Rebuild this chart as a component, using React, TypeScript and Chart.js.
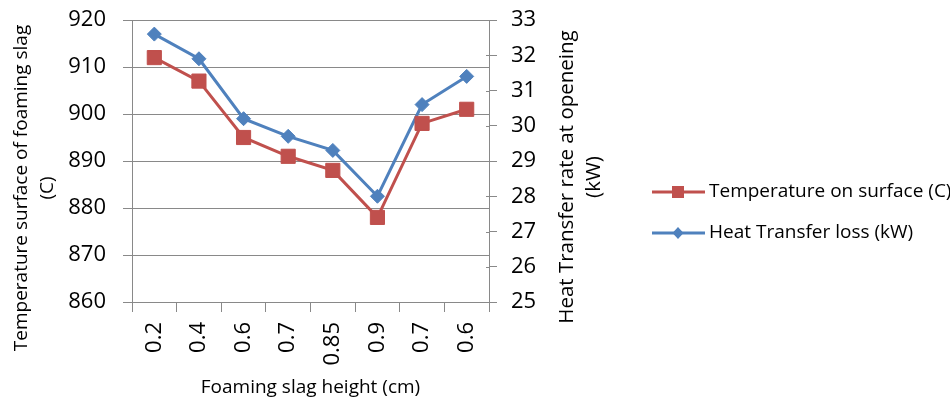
import React, { useEffect, useRef } from "react";
import { Chart, registerables } from "chart.js";

Chart.register(...registerables);

const categories = ["0.2", "0.4", "0.6", "0.7", "0.85", "0.9", "0.7", "0.6"];
const temperature = [912, 907, 895, 891, 888, 878, 898, 901];
const heatLoss = [32.6, 31.9, 30.2, 29.7, 29.3, 28.0, 30.6, 31.4];

const leftTitle = ["Temperature surface of foaming slag", "(C)"];
const rightTitle = ["Heat Transfer rate at openeing", "(kW)"];
const xTitle = "Foaming slag height (cm)";
const legendLabels = ["Temperature on surface (C)", "Heat Transfer loss (kW)"];

const RED = "#C0504D";
const BLUE = "#4F81BD";
const GRID = "#898989";
const FONT = "'Open Sans', Lato, sans-serif";

// Axis titles and a line+marker legend drawn onto the canvas
const annotations = {
  id: "annotations",
  afterDraw(chart: any) {
    const { ctx, chartArea } = chart;
    ctx.save();
    ctx.fillStyle = "#000";
    ctx.textAlign = "center";
    ctx.textBaseline = "middle";

    const drawVertical = (lines: string[], x: number, y: number, gap: number) => {
      lines.forEach((t, i) => {
        ctx.save();
        ctx.translate(x + i * gap, y);
        ctx.rotate(-Math.PI / 2);
        ctx.fillText(t, 0, 0);
        ctx.restore();
      });
    };
    ctx.font = `19px ${FONT}`;
    drawVertical(leftTitle, 22, 188, 26);
    ctx.font = `20.5px ${FONT}`;
    drawVertical(rightTitle, 567, 177, 27);

    ctx.font = `19px ${FONT}`;
    ctx.fillText(xTitle, (chartArea.left + chartArea.right) / 2, 388);

    // legend
    const rows = [
      { y: 192, color: RED, shape: "square" },
      { y: 233, color: BLUE, shape: "diamond" },
    ];
    rows.forEach((r, i) => {
      ctx.strokeStyle = r.color;
      ctx.fillStyle = r.color;
      ctx.lineWidth = 3;
      ctx.beginPath();
      ctx.moveTo(652, r.y);
      ctx.lineTo(705, r.y);
      ctx.stroke();
      const cx = 678;
      ctx.beginPath();
      if (r.shape === "square") {
        ctx.rect(cx - 6, r.y - 6, 12, 12);
      } else {
        ctx.moveTo(cx, r.y - 6);
        ctx.lineTo(cx + 5.5, r.y);
        ctx.lineTo(cx, r.y + 6);
        ctx.lineTo(cx - 5.5, r.y);
        ctx.closePath();
      }
      ctx.fill();
      ctx.fillStyle = "#000";
      ctx.textAlign = "left";
      ctx.fillText(legendLabels[i], 709, r.y);
    });

    // short inner stubs so the right-axis tick marks cross the axis line
    const y1 = chart.scales.y1;
    ctx.strokeStyle = GRID;
    ctx.lineWidth = 1;
    y1.ticks.forEach((_: any, i: number) => {
      const py = Math.round(y1.getPixelForTick(i)) + 0.5;
      ctx.beginPath();
      ctx.moveTo(chartArea.right - 3, py);
      ctx.lineTo(chartArea.right, py);
      ctx.stroke();
    });
    ctx.restore();
  },
};

export default function App() {
  const ref = useRef<HTMLCanvasElement | null>(null);

  useEffect(() => {
    document.body.style.margin = "0";
    const canvas = ref.current;
    if (!canvas) return;
    const chart = new Chart(canvas, {
      type: "line",
      data: {
        labels: categories,
        datasets: [
          {
            label: legendLabels[0],
            data: temperature,
            yAxisID: "y",
            borderColor: RED,
            backgroundColor: RED,
            borderWidth: 3,
            pointStyle: "rect",
            pointRadius: 10,
            pointBorderWidth: 1,
            tension: 0,
          },
          {
            label: legendLabels[1],
            data: heatLoss,
            yAxisID: "y1",
            borderColor: BLUE,
            backgroundColor: BLUE,
            borderWidth: 3,
            pointStyle: "rectRot",
            pointRadius: 7,
            pointBorderWidth: 1,
            tension: 0,
          },
        ],
      },
      options: {
        responsive: false,
        animation: false,
        layout: { padding: { left: 0, right: 331, top: 20, bottom: 0 } },
        plugins: {
          legend: { display: false },
          tooltip: { enabled: false },
        },
        scales: {
          x: {
            type: "category",
            offset: true,
            grid: {
              display: true,
              offset: true,
              drawOnChartArea: false,
              drawTicks: true,
              tickLength: 10,
              color: GRID,
            },
            border: { display: true, color: GRID },
            ticks: {
              color: "#000",
              font: { family: FONT, size: 22 },
              minRotation: 90,
              maxRotation: 90,
              padding: 10,
              autoSkip: false,
            },
            afterFit: (s: any) => {
              s.height = 101;
            },
          },
          y: {
            position: "left",
            min: 860,
            max: 920,
            ticks: {
              stepSize: 10,
              color: "#000",
              font: { family: FONT, size: 22 },
              padding: 17,
            },
            grid: { color: GRID, tickLength: 9 },
            border: { display: true, color: GRID },
            afterFit: (s: any) => {
              s.width = 132;
              s.paddingTop = 0;
              s.paddingBottom = 0;
            },
          },
          y1: {
            position: "right",
            min: 25,
            max: 33,
            ticks: {
              stepSize: 1,
              color: "#000",
              font: { family: FONT, size: 22 },
              padding: 14,
            },
            grid: { drawOnChartArea: false, color: GRID, tickLength: 8 },
            border: { display: true, color: GRID },
            afterFit: (s: any) => {
              s.width = 130;
              s.paddingTop = 0;
              s.paddingBottom = 0;
            },
          },
        },
      },
      plugins: [annotations],
    });
    return () => chart.destroy();
  }, []);

  return (
    <div style={{ width: 950, height: 403, background: "#fff" }}>
      <canvas ref={ref} width={950} height={403} />
    </div>
  );
}
